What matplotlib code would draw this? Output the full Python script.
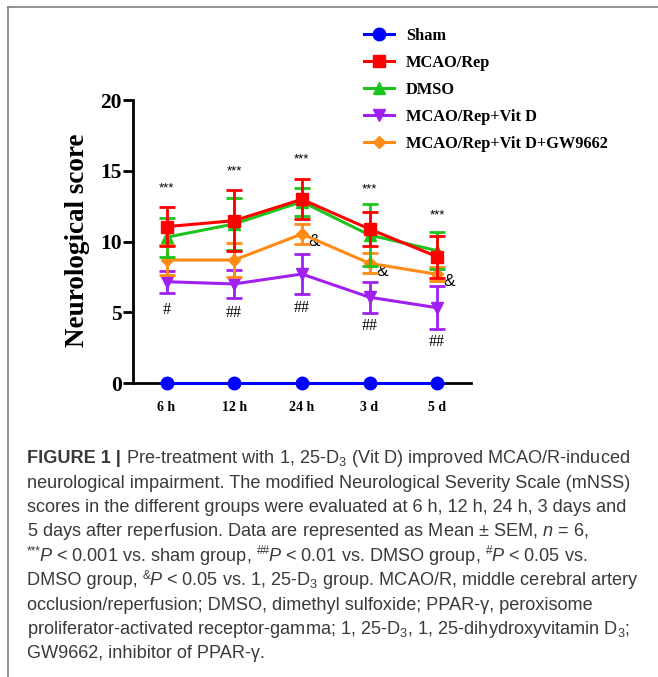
import matplotlib
matplotlib.use('Agg')
from matplotlib import pyplot
from matplotlib.lines import Line2D
import numpy

pyplot.rcParams['mathtext.fontset'] = 'custom'
pyplot.rcParams['mathtext.rm'] = 'Liberation Sans'
pyplot.rcParams['mathtext.it'] = 'Liberation Sans:italic'
pyplot.rcParams['mathtext.bf'] = 'Liberation Sans:bold'

# time points and group means / SEM
times = ['6 h', '12 h', '24 h', '3 d', '5 d']
sham = [0, 0, 0, 0, 0]
sham_err = [0, 0, 0, 0, 0]
mcao = [11.05, 11.47, 12.98, 10.88, 8.93]
mcao_err = [1.40, 2.17, 1.42, 1.22, 1.48]
dmso = [10.30, 11.24, 12.81, 10.46, 9.35]
dmso_err = [1.38, 1.86, 1.00, 2.17, 1.30]
vitd = [7.16, 7.00, 7.70, 6.06, 5.32]
vitd_err = [0.78, 1.02, 1.42, 1.10, 1.50]
gw = [8.69, 8.69, 10.53, 8.46, 7.68]
gw_err = [1.06, 1.18, 0.70, 0.70, 0.50]

# significance marks
stars_y = [13.76, 14.98, 15.83, 13.69, 11.87]
hash_labels = ['#', '##', '##', '##', '##']
hash_y = [5.16, 4.92, 5.28, 4.03, 2.92]
amp_idx = [2, 3, 4]
amp_y = [9.99, 7.91, 7.16]

# caption lines as (text, kind, space before) pieces: n normal, b bold, s superscript
caption = [
    [('FIGURE 1 |', 'b', 0), ('Pre-treatment with 1, 25-D$_3$ (Vit D) improved MCAO/R-induced', 'n', 1)],
    [('neurological impairment. The modified Neurological Severity Scale (mNSS)', 'n', 0)],
    [('scores in the different groups were evaluated at 6 h, 12 h, 24 h, 3 days and', 'n', 0)],
    [(r'5 days after reperfusion. Data are represented as Mean $\pm$ SEM, $n$ = 6,', 'n', 0)],
    [('***', 's', 0), ('$P$ < 0.001 vs. sham group,', 'n', 0), ('##', 's', 1),
     ('$P$ < 0.01 vs. DMSO group,', 'n', 0), ('#', 's', 1), ('$P$ < 0.05 vs.', 'n', 0)],
    [('DMSO group,', 'n', 0), ('&', 's', 1),
     ('$P$ < 0.05 vs. 1, 25-D$_3$ group. MCAO/R, middle cerebral artery', 'n', 0)],
    [('occlusion/reperfusion; DMSO, dimethyl sulfoxide; PPAR-γ, peroxisome', 'n', 0)],
    [('proliferator-activated receptor-gamma; 1, 25-D$_3$, 1, 25-dihydroxyvitamin D$_3$;', 'n', 0)],
    [('GW9662, inhibitor of PPAR-γ.', 'n', 0)],
]

W, H = 658, 677
fig = pyplot.figure(figsize=(W / 100, H / 100), dpi=100)
ax = fig.add_axes([132.7 / W, 1 - 383 / H, (471 - 132.7) / W, (383 - 100) / H])

x = numpy.arange(len(times))
groups = [
    ('Sham', sham, sham_err, '#0000FF', 'o', 9, 10),
    ('MCAO/Rep', mcao, mcao_err, '#FF0000', 's', 9, 6),
    ('DMSO', dmso, dmso_err, '#1EC41E', '^', 9, 5),
    ('MCAO/Rep+Vit D', vitd, vitd_err, '#A020F0', 'v', 9, 3),
    ('MCAO/Rep+Vit D+GW9662', gw, gw_err, '#FF8A14', 'D', 6, 4),
]
handles = []
for name, vals, err, col, mk, ms, z in groups:
    ax.errorbar(x, vals, yerr=err, color=col, marker=mk, markersize=ms, lw=2.2,
                elinewidth=2, capsize=6, capthick=2, zorder=z, clip_on=False)
    handles.append(Line2D([], [], color=col, marker=mk, markersize=ms, lw=2.2))

ax.set_xlim(-0.5, 4.5)
ax.set_ylim(0, 20)
ax.set_yticks([0, 5, 10, 15, 20])
ax.set_xticks(x)
ax.set_xticklabels(times)
for s in ['top', 'right']:
    ax.spines[s].set_visible(False)
for s in ['left', 'bottom']:
    ax.spines[s].set_linewidth(2)
ax.tick_params(axis='y', length=7, width=2, pad=1, labelsize=15.5)
ax.tick_params(axis='x', length=4, width=2, pad=9, labelsize=10)
for lab in ax.get_xticklabels() + ax.get_yticklabels():
    lab.set_fontfamily('Liberation Serif')
    lab.set_fontweight('bold')
ax.set_ylabel('Neurological score', fontsize=19.5, fontweight='bold', family='Liberation Serif')
ax.yaxis.set_label_coords(-0.126, 0.505)

for i in x:
    ax.text(i, stars_y[i], '***', ha='center', va='center', fontsize=9.5, family='Liberation Sans')
    ax.text(i, hash_y[i], hash_labels[i], ha='center', va='center', fontsize=11.5, family='Liberation Serif')
for i, yv in zip(amp_idx, amp_y):
    ax.annotate('&', (i, yv), xytext=(9, 0), textcoords='offset points',
                ha='center', va='center', fontsize=12.5, family='Liberation Sans')

fig.legend(handles=handles, labels=[g[0] for g in groups], loc='upper left',
           bbox_to_anchor=(356 / W, 1 - 20 / H), frameon=False, borderpad=0,
           handlelength=1.8, handletextpad=0.75, labelspacing=0.67,
           prop={'family': 'Liberation Serif', 'weight': 'bold', 'size': 11.8})

# caption, drawn piece by piece along each baseline
renderer = fig.canvas.get_renderer()
cap_size = 13.1
space_px = 0.278 * cap_size * 100 / 72
for k, pieces in enumerate(caption):
    xp = 27
    yb = 463.3 + 24.4 * k
    for txt, kind, gap in pieces:
        xp += gap * space_px
        size, weight, dy = cap_size, 'normal', 0
        if kind == 'b':
            weight = 'bold'
        if kind == 's':
            size, dy = cap_size * 0.65, 6.5
        t = fig.text(xp / W, 1 - (yb - dy) / H, txt, ha='left', va='baseline',
                     fontsize=size, fontweight=weight, color='#3a3a3a', family='Liberation Sans')
        xp += t.get_window_extent(renderer).width - (1.5 if kind == 's' else 0)

# frame of the figure panel
fig.add_artist(Line2D([8 / W, 1], [1 - 7 / H, 1 - 7 / H], color='#7f7f7f', lw=1.2))
fig.add_artist(Line2D([8 / W, 8 / W], [0, 1 - 7 / H], color='#7f7f7f', lw=1.2))

fig.savefig('out.png', dpi=100)
